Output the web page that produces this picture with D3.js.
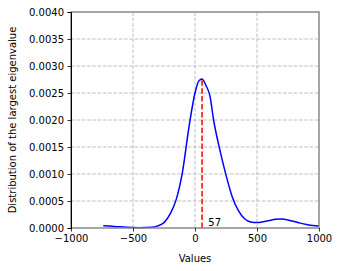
<!DOCTYPE html>
<html>
<head>
<meta charset="utf-8">
<script src="https://cdn.jsdelivr.net/npm/d3@7"></script>
<style>
  body { margin: 0; background: #fff; }
  text { font-family: "DejaVu Sans", sans-serif; }
</style>
</head>
<body>
<div id="chart"></div>
<script>
const width = 341;
const height = 271;

// density curve
const xValues = [-740, -650, -550, -450, -350, -300, -250, -200, -150, -100, -50, 0, 30, 57, 90, 120, 150, 200, 250, 300, 350, 400, 450, 500, 550, 600, 650, 700, 750, 800, 850, 900, 950, 1000];
const density = [0.00004, 0.00003, 0.000012, 0.000005, 0.000012, 0.00004, 0.0001, 0.00026, 0.00054, 0.00105, 0.00185, 0.0025, 0.00272, 0.00276, 0.00263, 0.00245, 0.002, 0.00145, 0.00098, 0.00058, 0.00032, 0.00017, 0.00011, 0.0001, 0.000115, 0.00014, 0.00016, 0.000165, 0.00015, 0.00012, 0.00009, 0.000065, 0.000045, 0.000035];
const peakX = 57;
const peakY = 0.00276;
const xTicks = [-1000, -500, 0, 500, 1000];
const yTicks = [0, 0.0005, 0.001, 0.0015, 0.002, 0.0025, 0.003, 0.0035, 0.004];

const margin = {left: 71, right: 22, top: 12, bottom: 43};

const svg = d3.select("#chart").append("svg")
    .attr("width", width).attr("height", height);

const x = d3.scaleLinear().domain([-1000, 1000]).range([margin.left, width - margin.right]);
const y = d3.scaleLinear().domain([0, 0.004]).range([height - margin.bottom, margin.top]);

// grid
svg.append("g").selectAll("line").data(xTicks.slice(1, -1)).join("line")
    .attr("x1", d => x(d)).attr("x2", d => x(d))
    .attr("y1", y(0)).attr("y2", y(0.004))
    .attr("stroke", "#b0b0b0").attr("stroke-width", 0.8)
    .attr("stroke-dasharray", "3.7,1.6");
svg.append("g").selectAll("line").data(yTicks.slice(1, -1)).join("line")
    .attr("x1", x(-1000)).attr("x2", x(1000))
    .attr("y1", d => y(d)).attr("y2", d => y(d))
    .attr("stroke", "#b0b0b0").attr("stroke-width", 0.8)
    .attr("stroke-dasharray", "3.7,1.6");

// curve
const pts = xValues.map((v, i) => [v, density[i]]);
const line = d3.line().x(d => x(d[0])).y(d => y(d[1])).curve(d3.curveMonotoneX);
svg.append("path")
    .attr("d", line(pts))
    .attr("fill", "none")
    .attr("stroke", "blue")
    .attr("stroke-width", 1.5);

// peak marker
svg.append("line")
    .attr("x1", x(peakX)).attr("x2", x(peakX))
    .attr("y1", y(0)).attr("y2", y(peakY))
    .attr("stroke", "red").attr("stroke-width", 1.5)
    .attr("stroke-dasharray", "5.5,2.4");
svg.append("text")
    .attr("x", x(peakX + 50)).attr("y", y(0) - 2.5)
    .attr("font-size", 10)
    .text(peakX);

// spines
svg.append("rect")
    .attr("x", x(-1000)).attr("y", y(0.004))
    .attr("width", x(1000) - x(-1000)).attr("height", y(0) - y(0.004))
    .attr("fill", "none").attr("stroke", "#888").attr("stroke-width", 1.5);

// axes
const xAxis = svg.append("g")
    .attr("transform", `translate(0,${y(0)})`)
    .call(d3.axisBottom(x).tickValues(xTicks).tickSize(3.5).tickPadding(3.5)
        .tickFormat(d => d < 0 ? "\u2212" + Math.abs(d) : d));
xAxis.select(".domain").remove();

const yAxis = svg.append("g")
    .attr("transform", `translate(${x(-1000)},0)`)
    .call(d3.axisLeft(y).tickValues(yTicks).tickSize(3.5).tickPadding(3.5)
        .tickFormat(d3.format(".4f")));
yAxis.select(".domain").attr("stroke", "#000").attr("stroke-width", 1);

svg.selectAll(".tick text").attr("font-size", 10).attr("fill", "#000")
    .attr("font-family", "DejaVu Sans");
svg.selectAll(".tick line").attr("stroke", "#000").attr("stroke-width", 0.8);

// labels
svg.append("text")
    .attr("x", (x(-1000) + x(1000)) / 2).attr("y", 262)
    .attr("text-anchor", "middle").attr("font-size", 10)
    .text("Values");
svg.append("text")
    .attr("transform", `translate(16,${(y(0) + y(0.004)) / 2}) rotate(-90)`)
    .attr("text-anchor", "middle").attr("font-size", 10)
    .text("Distribution of the largest eigenvalue");
</script>
</body>
</html>
